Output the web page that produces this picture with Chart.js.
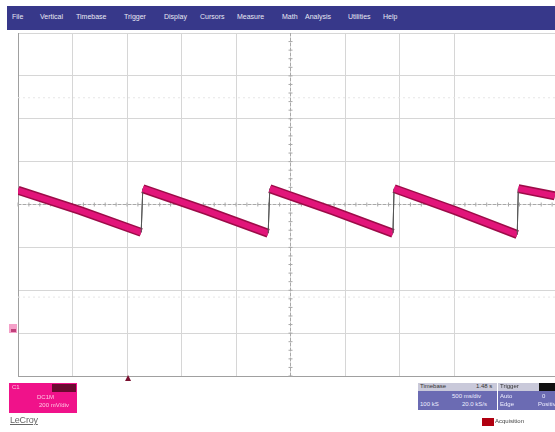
<!DOCTYPE html>
<html>
<head>
<meta charset="utf-8">
<script src="https://cdn.jsdelivr.net/npm/chart.js@4"></script>
<style>
  body { margin: 0; background: #fff; font-family: "Liberation Sans", Arial, sans-serif; }
  #wrap { position: relative; width: 555px; height: 432px; overflow: hidden; }
  #scope { position: absolute; left: 0; top: 0; }
  .menu { position: absolute; left: 7px; top: 6px; width: 548px; height: 24px; background: #37388a; }
  .menu span { position: absolute; top: 7px; color: #e8e8f4; font-size: 7px; white-space: nowrap; }
  .chbox { position: absolute; left: 9px; top: 383px; width: 68px; height: 30px; background: #f0128a; }
  .chbox .hd { position: absolute; right: 1px; top: 1px; width: 24px; height: 8px; background: #6a0a30; }
  .chbox span { position: absolute; font-size: 6px; color: #ffc6e4; white-space: nowrap; }
  .logo { position: absolute; left: 10px; top: 415px; font-size: 9px; color: #666; text-decoration: underline; letter-spacing: -0.2px; }
  .tb { position: absolute; top: 383px; height: 27px; background: #6b6bb3; }
  .tb .hd { position: absolute; left: 0; top: 0; right: 0; height: 8px; background: #c9c9da; }
  .tb span { position: absolute; font-size: 6px; color: #eef; white-space: nowrap; }
  .tb .hd span { color: #333; top: 0; }
  .acq { position: absolute; left: 482px; top: 418px; width: 12px; height: 8px; background: #b00010; }
  .acqt { position: absolute; left: 495px; top: 418px; font-size: 6px; color: #444; }
</style>
</head>
<body>
<div id="wrap">
  <canvas id="scope" width="555" height="432"></canvas>
  <div class="menu">
    <span style="left:5px">File</span>
    <span style="left:33px">Vertical</span>
    <span style="left:69px">Timebase</span>
    <span style="left:117px">Trigger</span>
    <span style="left:157px">Display</span>
    <span style="left:193px">Cursors</span>
    <span style="left:230px">Measure</span>
    <span style="left:275px">Math</span>
    <span style="left:298px">Analysis</span>
    <span style="left:341px">Utilities</span>
    <span style="left:376px">Help</span>
  </div>
  <div class="chbox">
    <div class="hd"></div>
    <span style="left:3px;top:1px">C1</span>
    <span style="left:28px;top:11px">DC1M</span>
    <span style="left:30px;top:19px">200 mV/div</span>
  </div>
  <div class="logo">LeCroy</div>
  <div class="tb" style="left:418px;width:79px">
    <div class="hd"><span style="left:2px">Timebase</span><span style="left:58px">1.48 s</span></div>
    <span style="left:34px;top:10px">500 ms/div</span>
    <span style="left:2px;top:18px">100 kS</span>
    <span style="left:44px;top:18px">20.0 kS/s</span>
  </div>
  <div class="tb" style="left:498px;width:57px">
    <div class="hd"><span style="left:2px">Trigger</span><div style="position:absolute;right:0;top:0;width:16px;height:8px;background:#111"></div></div>
    <span style="left:2px;top:10px">Auto</span>
    <span style="left:44px;top:10px">0</span>
    <span style="left:2px;top:18px">Edge</span>
    <span style="left:40px;top:18px">Positive</span>
  </div>
  <div class="acq"></div>
  <div class="acqt">Acquisition</div>
</div>
<script>
// time in divisions (54.5 px per div), amplitude in divisions from centre
const sawT = [0, 1.14, 2.26, 2.29, 3.45, 4.59, 4.62, 5.76, 6.88, 6.90, 8.04, 9.16, 9.18, 9.85];
const sawV = [0.33, -0.14, -0.65, 0.37, -0.14, -0.67, 0.37, -0.14, -0.67, 0.37, -0.15, -0.70, 0.37, 0.20];
const ghostLevels = [2.49, -2.16];

const points = sawT.map((t, i) => ({ x: t, y: sawV[i] }));
const isJump = ctx => ctx.p1.parsed.y > ctx.p0.parsed.y;

const scopeDecor = {
  id: 'scopeDecor',
  beforeDatasetsDraw(chart) {
    const { ctx, chartArea: a, scales: { x, y } } = chart;
    ctx.save();
    // faint ghost traces
    ctx.strokeStyle = '#e6e6e6';
    ctx.setLineDash([2, 3]);
    ghostLevels.forEach(v => {
      const py = y.getPixelForValue(v);
      ctx.beginPath(); ctx.moveTo(a.left, py); ctx.lineTo(a.right, py); ctx.stroke();
    });
    // centre crosshair
    ctx.strokeStyle = '#a8a8a8';
    ctx.setLineDash([3, 2]);
    const cx = x.getPixelForValue(5), cy = y.getPixelForValue(0);
    ctx.beginPath(); ctx.moveTo(cx, a.top); ctx.lineTo(cx, a.bottom); ctx.stroke();
    ctx.beginPath(); ctx.moveTo(a.left, cy); ctx.lineTo(a.right, cy); ctx.stroke();
    ctx.setLineDash([]);
    // small marks on the crosshair
    for (let v = -4; v <= 4; v += 0.2) {
      const py = y.getPixelForValue(v);
      ctx.beginPath(); ctx.moveTo(cx - 2, py); ctx.lineTo(cx + 2, py); ctx.stroke();
    }
    for (let t = 0; t <= 10; t += 0.2) {
      const px = x.getPixelForValue(t);
      if (px > a.right) break;
      ctx.beginPath(); ctx.moveTo(px, cy - 2); ctx.lineTo(px, cy + 2); ctx.stroke();
    }
    ctx.restore();
  },
  afterDraw(chart) {
    const { ctx, chartArea: a, scales: { x } } = chart;
    ctx.save();
    // channel offset marker
    ctx.fillStyle = '#f4a0c8';
    ctx.fillRect(9, 324, 8, 9);
    ctx.fillStyle = '#c0407a';
    ctx.fillRect(11, 329, 5, 3);
    // trigger position marker
    const tx = x.getPixelForValue(2.02);
    ctx.fillStyle = '#7a1030';
    ctx.beginPath();
    ctx.moveTo(tx, a.bottom - 1); ctx.lineTo(tx - 3, a.bottom + 5); ctx.lineTo(tx + 3, a.bottom + 5);
    ctx.closePath(); ctx.fill();
    ctx.restore();
  }
};

new Chart(document.getElementById('scope'), {
  type: 'line',
  data: {
    datasets: [
      {
        data: points,
        borderColor: '#e2157a',
        borderWidth: 6,
        pointRadius: 0,
        tension: 0,
        segment: {
          borderWidth: c => isJump(c) ? 1 : 6,
          borderColor: c => isJump(c) ? '#555' : '#e2157a'
        }
      },
      {
        data: points,
        borderColor: '#9c0c48',
        borderWidth: 9,
        pointRadius: 0,
        tension: 0,
        segment: {
          borderWidth: c => isJump(c) ? 1 : 9,
          borderColor: c => isJump(c) ? '#555' : '#9c0c48'
        }
      }
    ]
  },
  options: {
    responsive: false,
    animation: false,
    layout: { padding: { left: 18, top: 33, right: 0, bottom: 56 } },
    plugins: { legend: { display: false }, tooltip: { enabled: false } },
    scales: {
      x: {
        type: 'linear',
        min: 0,
        max: 9.853,
        ticks: { display: false, stepSize: 1 },
        grid: { color: '#d6d6d6', drawTicks: false },
        border: { color: '#a0a0a0' }
      },
      y: {
        min: -4,
        max: 4,
        ticks: { display: false, stepSize: 1 },
        grid: { color: '#d6d6d6', drawTicks: false },
        border: { color: '#a0a0a0' }
      }
    }
  },
  plugins: [scopeDecor]
});
</script>
</body>
</html>
